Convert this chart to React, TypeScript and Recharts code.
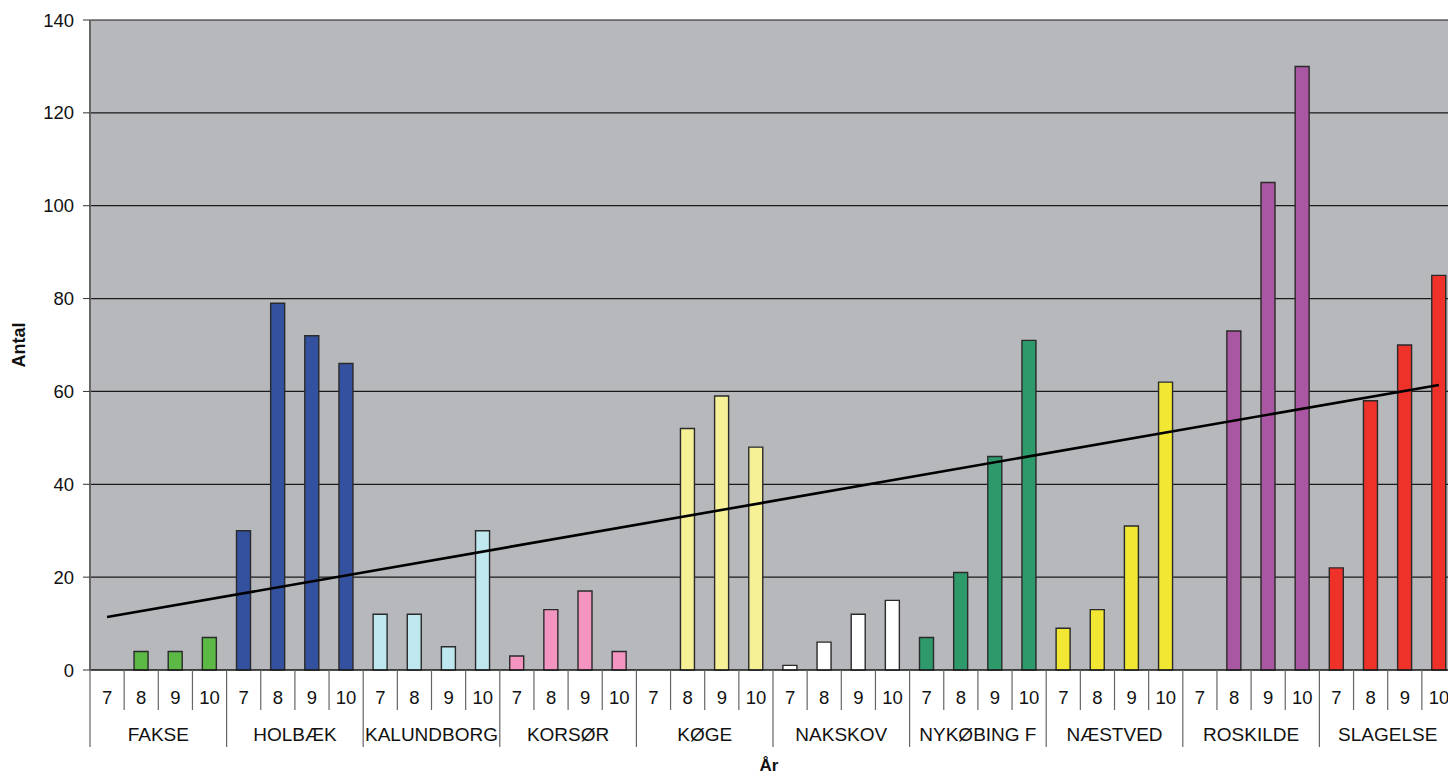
import { ComposedChart, Bar, Line, Cell, XAxis, YAxis, CartesianGrid } from "recharts";

const groups = ["FAKSE", "HOLBÆK", "KALUNDBORG", "KORSØR", "KØGE", "NAKSKOV", "NYKØBING F", "NÆSTVED", "ROSKILDE", "SLAGELSE"];
const years = ["7", "8", "9", "10"];

const fakse = [0, 4, 4, 7];
const holbaek = [30, 79, 72, 66];
const kalundborg = [12, 12, 5, 30];
const korsoer = [3, 13, 17, 4];
const koege = [0, 52, 59, 48];
const nakskov = [1, 6, 12, 15];
const nykoebing = [7, 21, 46, 71];
const naestved = [9, 13, 31, 62];
const roskilde = [0, 73, 105, 130];
const slagelse = [22, 58, 70, 85];

// trend line: value at first and last category
const trendEnds = [11.4, 61.4];

const yTicks = [0, 20, 40, 60, 80, 100, 120, 140];

const colors = ["#5CB946", "#3451A0", "#BFE7F0", "#F494C0", "#F6F196", "#FFFFFF", "#2E9A6C", "#F2E732", "#A957A2", "#EE3129"];

const values = [fakse, holbaek, kalundborg, korsoer, koege, nakskov, nykoebing, naestved, roskilde, slagelse];

const data = groups.flatMap((g, gi) =>
  years.map((yr, yi) => ({
    id: g + "-" + yr,
    group: g,
    year: yr,
    gi,
    value: values[gi][yi],
    trend: undefined as number | undefined,
  }))
);
data[0].trend = trendEnds[0];
data[data.length - 1].trend = trendEnds[1];

const W = 1460;
const H = 776;
const LEFT = 90;
const RIGHT = 4;
const BAND = (W - LEFT - RIGHT) / data.length;
const FONT = "'Liberation Sans', Arial, sans-serif";

const YearTick = (props: any) => {
  const { x, y, payload } = props;
  const i = props.index ?? payload.index;
  const row = data[i];
  const left = x - BAND / 2;
  return (
    <g>
      <line x1={left} x2={left} y1={y} y2={y + (i % 4 === 0 ? 77 : 40)} stroke="#666" strokeWidth={1.2} />
      {i === data.length - 1 && (
        <line x1={x + BAND / 2} x2={x + BAND / 2} y1={y} y2={y + 77} stroke="#666" strokeWidth={1.2} />
      )}
      <text x={x} y={y + 34} textAnchor="middle" fontSize={18.5} fill="#111" fontFamily={FONT}>
        {row ? row.year : ""}
      </text>
      {i % 4 === 2 && row && (
        <text x={left} y={y + 71} textAnchor="middle" fontSize={19} fill="#111" fontFamily={FONT}>
          {row.group}
        </text>
      )}
    </g>
  );
};

export default function App() {
  return (
    <div style={{ position: "fixed", left: 0, top: 0, width: 1448, height: H, overflow: "hidden", background: "#fff" }}>
      <ComposedChart
        width={W}
        height={H}
        data={data}
        margin={{ top: 20, right: RIGHT, bottom: 0, left: 0 }}
        barCategoryGap="29%"
      >
        <CartesianGrid vertical={false} stroke="#1a1a1a" strokeWidth={1.2} fill="#B7B8BC" fillOpacity={1} />
        <XAxis
          dataKey="id"
          height={106}
          tickSize={0}
          tickMargin={0}
          tickLine={false}
          interval={0}
          axisLine={{ stroke: "#111", strokeWidth: 1.2 }}
          tick={<YearTick />}
          label={{
            content: () => (
              <text x={769} y={771} textAnchor="middle" fontSize={17} fontWeight="bold" fill="#111" fontFamily={FONT}>
                År
              </text>
            ),
          }}
        />
        <YAxis
          width={LEFT}
          domain={[0, 140]}
          ticks={yTicks}
          interval={0}
          tickSize={7}
          tickMargin={9}
          axisLine={{ stroke: "#666", strokeWidth: 2 }}
          tickLine={{ stroke: "#333" }}
          tick={{ fill: "#111", fontSize: 18.5, fontFamily: FONT }}
          label={{
            content: () => (
              <text
                x={25}
                y={345}
                transform="rotate(-90 25 345)"
                textAnchor="middle"
                fontSize={18}
                fontWeight="bold"
                fill="#111"
                fontFamily={FONT}
              >
                Antal
              </text>
            ),
          }}
        />
        <Bar dataKey="value" stroke="#2a2a2a" strokeWidth={1.4} isAnimationActive={false}>
          {data.map((d) => (
            <Cell key={d.id} fill={colors[d.gi]} />
          ))}
        </Bar>
        <Line
          dataKey="trend"
          connectNulls
          stroke="#000"
          strokeWidth={2.6}
          dot={false}
          activeDot={false}
          isAnimationActive={false}
        />
      </ComposedChart>
    </div>
  );
}
